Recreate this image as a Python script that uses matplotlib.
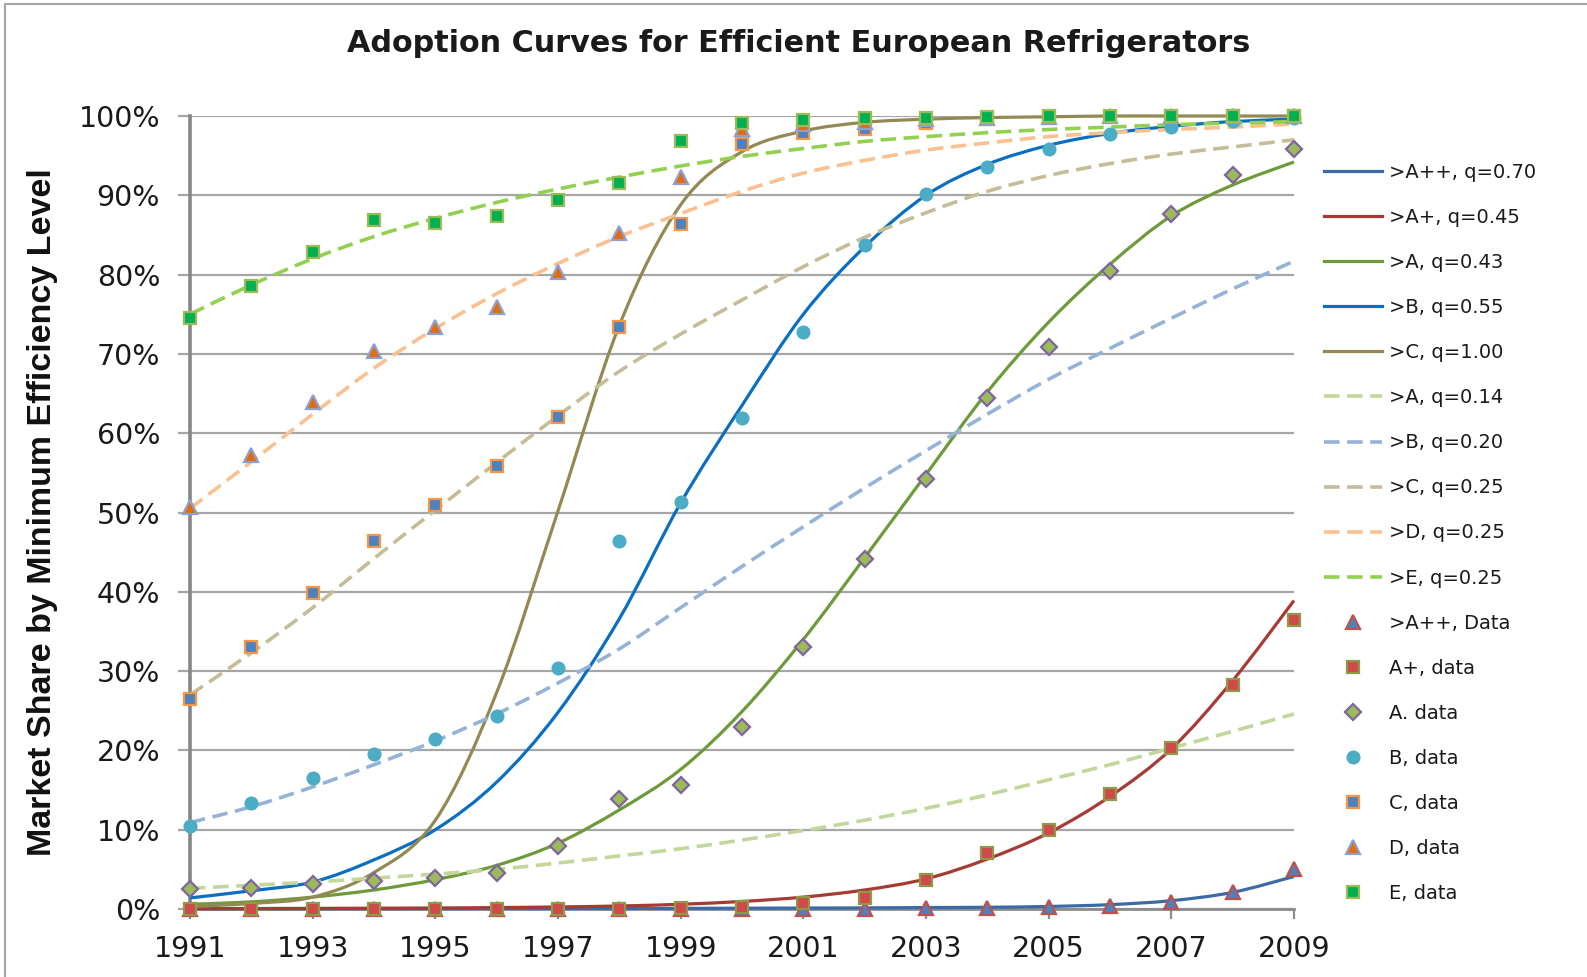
import numpy as np
import matplotlib
matplotlib.use("Agg")
import matplotlib.pyplot as plt
from matplotlib.path import Path
from matplotlib.patches import PathPatch, Rectangle
from matplotlib.lines import Line2D
from matplotlib.ticker import FuncFormatter

plt.rcParams['font.family'] = ['DejaVu Sans']

# data (percent)
years = list(range(1991, 2010))

fit_app = [0.02, 0.02, 0.03, 0.03, 0.04, 0.05, 0.06, 0.07, 0.08, 0.10, 0.12, 0.14, 0.18, 0.22, 0.32, 0.55, 1.05, 2.1, 4.1]
fit_ap = [0.05, 0.06, 0.08, 0.10, 0.13, 0.18, 0.26, 0.38, 0.6, 0.95, 1.5, 2.4, 3.8, 6.3, 9.6, 14.2, 20.2, 28.8, 38.9]
fit_a = [0.6, 0.9, 1.5, 2.4, 3.7, 5.5, 8.3, 12.5, 17.6, 24.9, 34.0, 44.3, 54.8, 65.2, 74.0, 81.3, 87.4, 91.3, 94.2]
fit_b = [1.4, 2.3, 3.4, 6.2, 10.0, 16.0, 24.8, 36.6, 51.2, 63.5, 75.0, 83.5, 90.0, 93.9, 96.3, 97.8, 98.7, 99.3, 99.6]
fit_c = [0.3, 0.7, 1.5, 4.6, 11.2, 27.3, 50.2, 73.6, 88.8, 95.5, 98.1, 99.2, 99.6, 99.8, 99.9, 100, 100, 100, 100]
fit_a2 = [2.6, 3.0, 3.4, 3.9, 4.4, 5.0, 5.8, 6.7, 7.6, 8.7, 9.9, 11.2, 12.7, 14.4, 16.3, 18.2, 20.3, 22.4, 24.6]
fit_b2 = [10.9, 12.9, 15.4, 18.2, 21.2, 24.6, 28.5, 32.8, 38.0, 43.2, 48.2, 53.1, 57.8, 62.4, 66.8, 70.7, 74.5, 78.2, 81.7]
fit_c2 = [27.0, 32.3, 38.0, 44.2, 50.3, 56.3, 62.2, 67.8, 72.5, 76.8, 81.0, 84.7, 87.8, 90.5, 92.5, 94.0, 95.2, 96.1, 97.0]
fit_d2 = [50.5, 56.4, 62.4, 68.2, 73.2, 77.6, 81.4, 84.8, 87.7, 90.5, 92.8, 94.4, 95.7, 96.6, 97.4, 97.9, 98.3, 98.6, 99.0]
fit_e2 = [75.0, 78.7, 82.0, 84.8, 87.1, 89.1, 90.8, 92.3, 93.7, 94.9, 95.9, 96.8, 97.4, 97.9, 98.3, 98.6, 98.9, 99.1, 99.3]

app_data = [0, 0, 0, 0, 0, 0, 0, 0, 0, 0, 0, 0, 0.1, 0.1, 0.2, 0.4, 0.9, 2.2, 5.0]
ap_data = [0, 0, 0, 0, 0, 0, 0, 0, 0.1, 0.3, 0.8, 1.4, 3.6, 7.1, 10.0, 14.5, 20.3, 28.2, 36.5]
a_data = [2.5, 2.7, 3.1, 3.5, 3.9, 4.5, 7.9, 13.9, 15.6, 23.0, 33.0, 44.1, 54.2, 64.4, 70.9, 80.4, 87.6, 92.5, 95.8]
b_data = [10.5, 13.4, 16.5, 19.5, 21.4, 24.4, 30.4, 46.4, 51.3, 61.9, 72.8, 83.7, 90.2, 93.6, 95.9, 97.7, 98.6, 99.4, 99.8]
c_data = [26.5, 33.1, 39.8, 46.4, 51.0, 55.9, 62.1, 73.4, 86.4, 96.5, 97.8, 98.4, 99.1, 99.6, 99.8, 99.9, 100, 100, 100]
d_data = [50.7, 57.3, 63.9, 70.4, 73.4, 75.9, 80.3, 85.3, 92.3, 98.3, 99.0, 99.3, 99.6, 99.8, 99.9, 100, 100, 100, 100]
e_data = [74.5, 78.5, 82.8, 86.9, 86.5, 87.4, 89.4, 91.5, 96.9, 99.1, 99.5, 99.7, 99.8, 99.9, 100, 100, 100, 100, 100]

curves = [
    (fit_app, '>A++, q=0.70', '#3C6AA6', '-'),
    (fit_ap, '>A+, q=0.45', '#A83A36', '-'),
    (fit_a, '>A, q=0.43', '#6E9A3A', '-'),
    (fit_b, '>B, q=0.55', '#0A6FC2', '-'),
    (fit_c, '>C, q=1.00', '#938953', '-'),
    (fit_a2, '>A, q=0.14', '#C3D69B', 'dash'),
    (fit_b2, '>B, q=0.20', '#95B3D7', 'dash'),
    (fit_c2, '>C, q=0.25', '#C4BD97', 'dash'),
    (fit_d2, '>D, q=0.25', '#FAC090', 'dash'),
    (fit_e2, '>E, q=0.25', '#92D050', 'dash'),
]

points = [
    (app_data, '>A++, Data', '^', '#4F81BD', '#C0504D', 10),
    (ap_data, 'A+, data', 's', '#D04A4A', '#8F9A48', 8.5),
    (a_data, 'A. data', 'D', '#9BBB59', '#8064A2', 8.5),
    (b_data, 'B, data', 'o', '#4BACC6', '#4BACC6', 8.5),
    (c_data, 'C, data', 's', '#4F81BD', '#F79646', 8.5),
    (d_data, 'D, data', '^', '#E46C0A', '#8EA0D0', 10),
    (e_data, 'E, data', 's', '#00B050', '#9BBB59', 8.5),
]


def smooth_path(x, y):
    # excel-style smoothed line through the yearly points
    pts = np.column_stack([x, y]).astype(float)
    n = len(pts)
    verts = [pts[0]]
    codes = [Path.MOVETO]
    for i in range(n - 1):
        p0 = pts[max(i - 1, 0)]
        p1 = pts[i]
        p2 = pts[i + 1]
        p3 = pts[min(i + 2, n - 1)]
        verts += [p1 + (p2 - p0) / 6, p2 - (p3 - p1) / 6, p2]
        codes += [Path.CURVE4] * 3
    return Path(verts, codes)


fig = plt.figure(figsize=(15.87, 9.77), dpi=100)
ax = fig.add_axes([190 / 1587, 68 / 977, 1104 / 1587, 793 / 977])

dash = (0, (4.3, 2.1))
handles = []
for vals, label, color, style in curves:
    ls = '-' if style == '-' else dash
    lw = 2.3 if style == '-' else 2.6
    ax.add_patch(PathPatch(smooth_path(years, vals), fill=False, edgecolor=color,
                           lw=lw, linestyle=ls, capstyle='butt', zorder=3, clip_on=False))
    handles.append(Line2D([], [], color=color, lw=lw, linestyle=ls, label=label))

for vals, label, marker, fc, ec, ms in points:
    ax.plot(years, vals, linestyle='none', marker=marker, markersize=ms,
            markerfacecolor=fc, markeredgecolor=ec, markeredgewidth=1.6,
            zorder=4, clip_on=False)
    handles.append(Line2D([], [], linestyle='none', marker=marker, markersize=ms,
                          markerfacecolor=fc, markeredgecolor=ec, markeredgewidth=1.6,
                          label=label))

ax.set_xlim(1991, 2009)
ax.set_ylim(0, 100)
ax.set_xticks(years[::2])
ax.set_yticks(range(0, 101, 10))
ax.yaxis.set_major_formatter(FuncFormatter(lambda v, p: '%d%%' % v))
ax.yaxis.grid(True, color='#a6a6a6', lw=1.6)
ax.set_axisbelow(True)

for s in ['top', 'right']:
    ax.spines[s].set_visible(False)
ax.spines['left'].set_color('#868686')
ax.spines['left'].set_linewidth(2.6)
ax.spines['bottom'].set_color('#8c8c8c')
ax.spines['bottom'].set_linewidth(2.0)
ax.spines['left'].set_zorder(2.5)

ax.tick_params(axis='y', length=8.5, width=1.6, color='#a6a6a6', pad=13,
               labelsize=20.5, labelcolor='#1a1a1a')
ax.tick_params(axis='x', length=7, width=1.6, color='#8c8c8c', pad=12,
               labelsize=20.5, labelcolor='#1a1a1a')

fig.text(0.503, 0.955, 'Adoption Curves for Efficient European Refrigerators',
         ha='center', va='center', fontsize=21.8, fontweight='bold', color='#1a1a1a')
fig.text(0.027, 0.476, 'Market Share by Minimum Efficiency Level', rotation=90,
         ha='center', va='center', fontsize=24.5, fontweight='bold', color='#111111',
         family=['Liberation Sans', 'DejaVu Sans'])

fig.legend(handles=handles, loc='upper left', bbox_to_anchor=(1324 / 1587, 1 - 163 / 977),
           frameon=False, fontsize=14, handlelength=3.0, handletextpad=0.35,
           labelspacing=1.34, borderpad=0, borderaxespad=0, labelcolor='#1a1a1a')

fig.patches.append(Rectangle((5 / 1587, -0.05), 1.2, 1 - 4 / 977 + 0.05, fill=False,
                             edgecolor='#a6a6a6', lw=1.5, transform=fig.transFigure))

fig.savefig('out.png', dpi=100)
